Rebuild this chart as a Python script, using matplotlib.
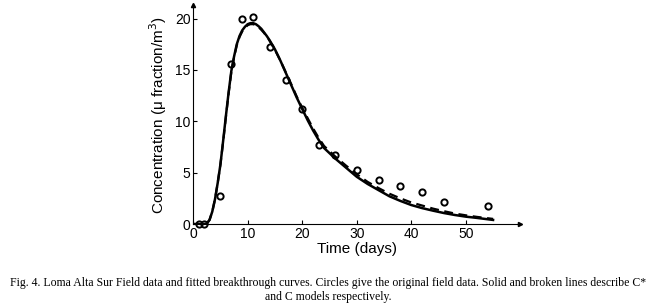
import matplotlib.pyplot as plt
import numpy as np

# field data (circles)
obs_t = [1, 2, 5, 7, 9, 11, 14, 17, 20, 23, 26, 30, 34, 38, 42, 46, 54]
obs_c = [0.0, 0.0, 2.7, 15.6, 20.0, 20.1, 17.2, 14.0, 11.2, 7.7, 6.7, 5.3, 4.3, 3.7, 3.1, 2.1, 1.75]

# fitted curves
fit_t = [0, 2, 2.5, 3, 3.5, 4, 4.5, 5, 5.5, 6, 6.5, 7, 7.5, 8, 8.5, 9, 9.5, 10, 10.5,
         11, 11.5, 12, 12.5, 13, 13.5, 14, 15, 16, 17, 18, 19, 20, 21, 22, 23, 24,
         26, 28, 30, 32, 34, 36, 38, 40, 42, 44, 46, 48, 50, 52, 55]
cstar = [0, 0, 0.05, 0.4, 1.2, 2.4, 4.0, 5.8, 8.1, 10.5, 12.8, 14.9, 16.3, 17.5, 18.3,
         18.85, 19.2, 19.45, 19.55, 19.55, 19.45, 19.25, 19.0, 18.65, 18.3, 17.9, 17.0,
         15.9, 14.7, 13.5, 12.3, 11.2, 10.1, 9.1, 8.2, 7.4, 6.4, 5.5, 4.6, 3.9, 3.3, 2.7,
         2.25, 1.85, 1.55, 1.3, 1.07, 0.88, 0.72, 0.6, 0.4]
c_mod = [0, 0, 0.05, 0.4, 1.2, 2.4, 4.0, 5.8, 8.0, 10.4, 12.7, 14.8, 16.2, 17.4, 18.2,
         18.75, 19.1, 19.35, 19.45, 19.45, 19.35, 19.15, 18.9, 18.6, 18.25, 17.85, 16.95,
         15.9, 14.75, 13.6, 12.4, 11.3, 10.3, 9.3, 8.4, 7.6, 6.6, 5.7, 4.85, 4.1, 3.5, 2.95,
         2.5, 2.1, 1.8, 1.5, 1.25, 1.02, 0.85, 0.7, 0.5]

plt.rcParams['font.family'] = ['Liberation Sans', 'DejaVu Sans']

fig = plt.figure(figsize=(6.57, 3.04), dpi=100)
ax = fig.add_axes([0.294, 0.263, 0.498, 0.72])

ax.plot(fit_t, c_mod, color='black', lw=1.6, ls=(0, (4, 2.5)))
ax.plot(fit_t, cstar, color='black', lw=1.8)
ax.plot(obs_t, obs_c, 'o', mfc='none', mec='black', mew=1.4, ms=4.5, clip_on=False)

ax.set_xlim(0, 60)
ax.set_ylim(0, 21.3)
ax.set_xticks([0, 10, 20, 30, 40, 50])
ax.set_yticks([0, 5, 10, 15, 20])
ax.spines['top'].set_visible(False)
ax.spines['right'].set_visible(False)
ax.tick_params(direction='in', length=3, labelsize=10, pad=2)
ax.plot(1, 0, '>k', ms=3, transform=ax.transAxes, clip_on=False)
ax.plot(0, 1, '^k', ms=3, transform=ax.transAxes, clip_on=False)
ax.set_xlabel('Time (days)', fontsize=11, labelpad=1)
ax.set_ylabel('Concentration (\u03bc fraction/m$^3$)', fontsize=11, labelpad=4)

fig.text(0.5, 0.068, 'Fig. 4. Loma Alta Sur Field data and fitted breakthrough curves. '
         'Circles give the original field data. Solid and broken lines describe C*',
         ha='center', va='center', fontsize=8.5, family='Liberation Serif')
fig.text(0.5, 0.022, 'and C models respectively.',
         ha='center', va='center', fontsize=8.5, family='Liberation Serif')

fig.savefig('out.png', dpi=100)
